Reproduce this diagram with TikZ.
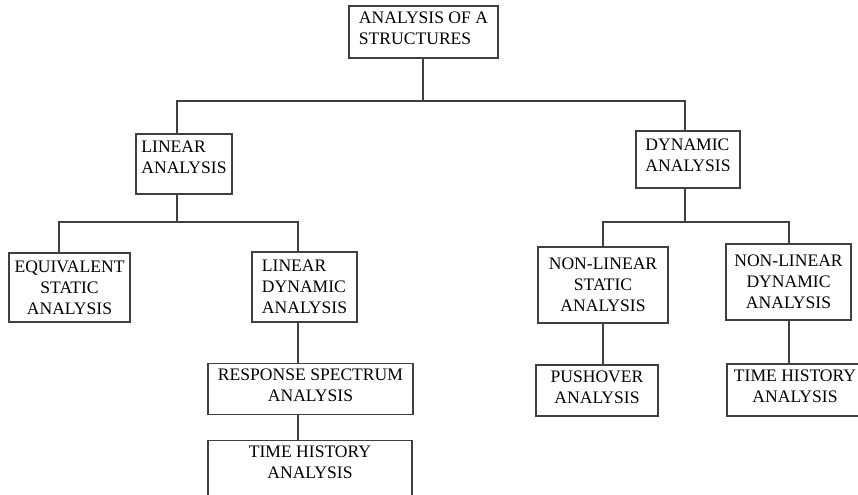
\documentclass[tikz,border=0pt]{standalone}
\usepackage{fontspec}
\setmainfont{Liberation Serif}
\begin{document}
\begin{tikzpicture}
	[x=0.02cm,y=-0.02cm,
	every node/.style={font=\fontsize{10}{12}\selectfont},
	box/.style={draw=black!75,line width=0.6pt,rectangle,align=center,inner xsep=2pt,inner ysep=3pt},
	sz/.style 2 args={minimum width=#1*0.02cm,minimum height=#2*0.02cm},
	link/.style={draw=black!75,line width=0.6pt}
	]
	\useasboundingbox[fill=white] (0,0) rectangle (858,494);
	% level 0 and 1
	\node[box,align=left,sz={149}{52},text depth=4pt] (root) at (423.5,32) {ANALYSIS OF A\\STRUCTURES};
	\node[box,align=left,sz={96}{60},text depth=8pt] (lin) at (184,164) {LINEAR\\ANALYSIS};
	\node[box,align=left,sz={104}{57},text depth=5pt] (dyn) at (688,159.5) {DYNAMIC\\ANALYSIS};
	% level 2
	\node[box,sz={121}{69}] (eqs) at (69.5,287.5) {EQUIVALENT\\STATIC\\ANALYSIS};
	\node[box,align=left,sz={105}{70}] (ld) at (304.5,287) {LINEAR\\DYNAMIC\\ANALYSIS};
	\node[box,sz={130}{76}] (nls) at (603,285) {NON-LINEAR\\STATIC\\ANALYSIS};
	\node[box,sz={125}{76}] (nld) at (788.5,282) {NON-LINEAR\\DYNAMIC\\ANALYSIS};
	% level 3 and 4
	\node[box,sz={205}{50},text depth=4pt] (rs) at (310.5,389) {RESPONSE SPECTRUM\\ANALYSIS};
	\node[box,minimum width=204*0.02cm,text depth=50pt,anchor=north] (thl) at (310,440) {TIME HISTORY\\ANALYSIS};
	\node[box,sz={122}{51},text depth=4pt] (push) at (597,390.5) {PUSHOVER\\ANALYSIS};
	\node[box,sz={136}{52},text depth=4pt] (thr) at (795,390) {TIME HISTORY\\ANALYSIS};
	% forks
	\coordinate (f1) at (423,101);
	\coordinate (f2) at (177,222);
	\coordinate (f3) at (685,222);
	\path[link] (root.south -| f1) -- (f1);
	\path[link] (lin.north -| f2) |- (f1) -| (dyn.north -| f3);
	\path[link] (lin.south -| f2) -- (f2);
	\path[link] (dyn.south -| f3) -- (f3);
	\path[link] (eqs.north -| 59,0) |- (f2) -| (ld.north -| 298,0);
	\path[link] (nls.north -| 603,0) |- (f3) -| (nld.north -| 789,0);
	\path[link] (ld.south -| 298,0) -- (rs.north -| 298,0);
	\path[link] (rs.south -| 298,0) -- (thl.north -| 298,0);
	\path[link] (nls.south -| 603,0) -- (push.north -| 603,0);
	\path[link] (nld.south -| 789,0) -- (thr.north -| 789,0);
\end{tikzpicture}
\end{document}
